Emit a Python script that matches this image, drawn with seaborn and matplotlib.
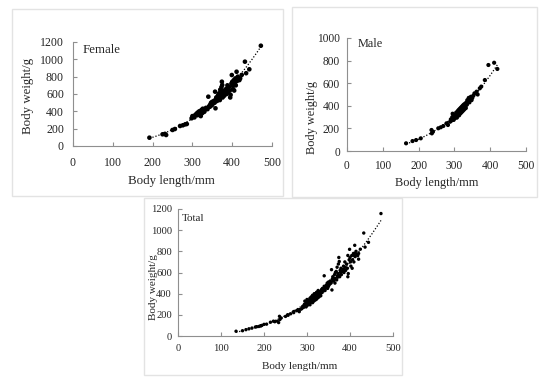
import numpy as np
import pandas as pd
import matplotlib
matplotlib.use("Agg")
import matplotlib.pyplot as plt
from matplotlib.patches import Rectangle
import seaborn as sns

# body length (mm) / body weight (g)
female_length = [192, 225, 231, 234, 250, 256, 269, 276, 282, 286, 298, 300, 302, 305, 307,
                 310, 312, 313, 315, 316, 317, 318, 320, 321, 322, 323, 325, 326, 328, 330,
                 332, 334, 336, 338, 340, 342, 344, 345, 347, 349, 350, 352, 354, 356, 357,
                 358, 359, 360, 362, 364, 365, 366, 368, 369, 370, 371, 372, 373, 374, 375,
                 376, 377, 378, 379, 380, 382, 384, 385, 386, 388, 389, 390, 392, 394, 395,
                 396, 398, 399, 400, 401, 402, 404, 405, 406, 408, 409, 410, 411, 412, 414,
                 416, 418, 420, 424, 432, 435, 443, 472]
female_weight = [96, 135, 140, 127, 185, 196, 231, 239, 250, 254, 320, 345, 338, 330, 358,
                 370, 355, 385, 377, 360, 400, 370, 390, 345, 410, 415, 380, 430, 405, 395,
                 420, 440, 435, 425, 569, 460, 453, 480, 500, 470, 510, 490, 520, 500, 627,
                 435, 540, 560, 520, 580, 545, 600, 610, 530, 650, 570, 590, 680, 742, 704,
                 560, 620, 600, 640, 580, 610, 630, 660, 600, 700, 650, 620, 680, 640, 560,
                 590, 720, 819, 740, 700, 660, 760, 640, 720, 780, 700, 760, 857, 750, 800,
                 770, 760, 780, 820, 973, 840, 885, 1157]

male_length = [165, 183, 193, 206, 236, 237, 240, 255, 262, 269, 278, 282, 288, 290, 292,
               294, 295, 296, 298, 300, 301, 302, 304, 305, 306, 307, 308, 309, 310, 311,
               312, 313, 314, 315, 316, 317, 318, 319, 320, 321, 322, 323, 324, 325, 326,
               327, 328, 330, 331, 332, 334, 335, 336, 338, 340, 342, 344, 346, 348, 350,
               353, 356, 362, 365, 371, 375, 385, 395, 411, 420]
male_weight = [68, 88, 97, 112, 186, 156, 170, 201, 210, 221, 245, 230, 259, 280, 270,
               300, 330, 285, 275, 310, 290, 320, 300, 340, 310, 295, 330, 350, 320, 360,
               340, 315, 370, 345, 330, 380, 360, 340, 390, 370, 350, 400, 380, 360, 410,
               390, 370, 420, 400, 380, 430, 410, 450, 440, 470, 430, 460, 480, 450, 470,
               490, 510, 525, 500, 555, 570, 628, 761, 781, 726]

# small fish of undetermined sex, only in the pooled panel
unsexed_length = [135, 150, 158, 172, 180, 188, 195, 200, 215, 222]
unsexed_weight = [45, 50, 60, 75, 85, 90, 100, 110, 130, 140]

total_length = female_length + male_length + unsexed_length
total_weight = female_weight + male_weight + unsexed_weight

W, H = 550, 381

sns.set_theme(style="white")
plt.rcParams["font.family"] = ["Liberation Serif", "DejaVu Serif"]

fig = plt.figure(figsize=(W / 100, H / 100), dpi=100)


def px_axes(x0, y0, x1, y1):
    # axes from pixel box (top-left origin)
    return fig.add_axes([x0 / W, 1 - y1 / H, (x1 - x0) / W, (y1 - y0) / H])


def frame(x0, y0, x1, y1):
    fig.patches.append(Rectangle((x0 / W, 1 - y1 / H), (x1 - x0) / W, (y1 - y0) / H,
                                 transform=fig.transFigure, fill=False,
                                 edgecolor="#e3e3e3", linewidth=1.0))


def panel(ax, length, weight, name, ymax, fs, lab_fs, ms, pads,
          xlab_pos, ylab_pos, name_pos):
    df = pd.DataFrame({"length": length, "weight": weight})
    # power curve W = a * L^b
    b, loga = np.polyfit(np.log(df["length"]), np.log(df["weight"]), 1)
    xs = np.linspace(df["length"].min(), df["length"].max(), 200)
    ax.plot(xs, np.exp(loga) * xs ** b, color="black", linestyle=(0, (1, 1.5)), linewidth=0.9)
    sns.scatterplot(data=df, x="length", y="weight", ax=ax, color="black", s=ms,
                    edgecolor="none", zorder=3)
    ax.set_xlim(0, 500)
    ax.set_ylim(0, ymax)
    ax.set_xticks(range(0, 501, 100))
    ax.set_yticks(range(0, ymax + 1, 200))
    for s in ["top", "right"]:
        ax.spines[s].set_visible(False)
    for s in ["left", "bottom"]:
        ax.spines[s].set_color("#8f8f8f")
        ax.spines[s].set_linewidth(0.8)
    ax.tick_params(direction="in", length=3, width=0.8, color="#8f8f8f",
                   labelsize=fs, left=True, bottom=True)
    ax.tick_params(axis="x", pad=pads[0])
    ax.tick_params(axis="y", pad=pads[1])
    ax.set_xlabel("Body length/mm", fontsize=lab_fs)
    ax.set_ylabel("Body weight/g", fontsize=lab_fs)
    ax.xaxis.set_label_coords(*xlab_pos)
    ax.yaxis.set_label_coords(*ylab_pos)
    ax.xaxis.label.set_va("center")
    ax.yaxis.label.set_va("center")
    ax.text(name_pos[0], name_pos[1], name, transform=ax.transAxes, fontsize=lab_fs,
            ha="left", va="center")


frame(12, 9, 283, 196)
frame(292, 7, 537, 197)
frame(144, 198, 402, 375)

ax_f = px_axes(73, 42, 272, 146)
panel(ax_f, female_length, female_weight, "Female", 1200, 8.6, 9.3, 11, (8, 6.5),
      (0.497, -0.337), (-0.226, 0.481), (0.05, 0.923))

ax_m = px_axes(347, 38, 526, 151)
panel(ax_m, male_length, male_weight, "Male", 1000, 8.3, 8.8, 9, (6.5, 5),
      (0.503, -0.283), (-0.196, 0.30), (0.061, 0.947))

ax_t = px_axes(178, 209, 393, 336)
panel(ax_t, total_length, total_weight, "Total", 1200, 7.6, 8, 6, (6, 4.3),
      (0.567, -0.244), (-0.116, 0.386), (0.019, 0.929))

fig.savefig("out.png", dpi=100)
